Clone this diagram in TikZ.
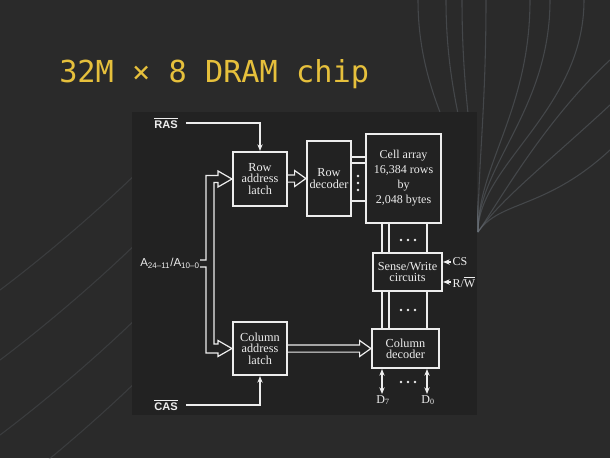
\documentclass[tikz,border=0pt]{standalone}
\usepackage{fontspec}
\setmainfont{Liberation Serif}
\newfontfamily\titlefont{DejaVu Sans Mono}
\newfontfamily\labelfont{Liberation Sans}
\usetikzlibrary{arrows.meta,positioning,calc}
\definecolor{slide}{HTML}{2A2A2A}
\definecolor{panel}{HTML}{222222}
\definecolor{ink}{HTML}{EDEDED}
\definecolor{titlegold}{HTML}{E6C03C}
\definecolor{swirl}{HTML}{6C737B}

% hollow bus arrow from the east side of #1 to the west side of #2
\newcommand{\hbus}[2]{%
  \draw[bus] let \p1=(#1.east), \p2=(#2.west) in
    (\x1,\y2+2.7pt) -- (\x2-8.5pt,\y2+2.7pt) -- (\x2-8.5pt,\y2+6pt) -- (\x2,\y2)
    -- (\x2-8.5pt,\y2-6pt) -- (\x2-8.5pt,\y2-2.7pt) -- (\x1,\y2-2.7pt);}

\begin{document}
\begin{tikzpicture}[x=0.75pt,y=-0.75pt,
  blk/.style={draw=ink, line width=1.6pt, text=ink, align=center, inner sep=0pt, font=\fontsize{9.2}{8.5}\selectfont},
  wire/.style={draw=ink, line width=0.9pt},
  bus/.style={draw=ink, line width=0.9pt, line join=miter},
  sig/.style={text=ink, inner sep=0pt, font=\labelfont\bfseries\fontsize{8.3}{9}\selectfont},
  pin/.style={text=ink, inner sep=1pt, font=\fontsize{9}{9}\selectfont},
  sw/.style={draw=swirl, line width=0.8pt, opacity=0.4},
  >={Stealth[length=5pt,width=4pt]}
]
% slide background
\useasboundingbox (0,0) rectangle (610,458);
\fill[slide] (0,0) rectangle (610,458);
\foreach \sx in {418,446,462,486,530,550,584}
  \draw[sw] (\sx,0) .. controls (\sx,110) and (478,165) .. (478,232);
\foreach \sy in {60,105,150}
  \draw[sw] (610,\sy) .. controls (545,\sy+60) and (500,200) .. (478,232);
\foreach \sy in {250,320,395,458}
  \draw[sw, opacity=0.25] (0,\sy+40) .. controls (40,\sy+10) and (100,\sy-40) .. (150,\sy-90);
\fill[panel] (132,112) rectangle (477,415);

% title
\node[anchor=base west, inner sep=0pt, text=titlegold, font=\titlefont\fontsize{22.7}{26}\selectfont] (title) at (59,82) {32M × 8 DRAM chip};

% blocks
\node[blk, minimum width=40.5pt, minimum height=40.5pt] (rowlatch) at (260,179) {Row\\address\\latch};
\node[blk, minimum width=33pt, minimum height=56.25pt] (rowdec) at (329,178.5) {Row\\decoder};
\node[blk, minimum width=56.25pt, minimum height=66.75pt, font=\fontsize{9}{11.3}\selectfont] (cells) at (403.5,178.5) {Cell array\\16,384 rows\\by\\2,048 bytes};
\node[blk, minimum width=51.75pt, minimum height=28.5pt] (sense) at (407.5,272) {Sense/Write\\circuits};
\node[blk, minimum width=50.25pt, minimum height=29.25pt] (coldec) at (405.5,348.5) {Column\\decoder};
\node[blk, minimum width=40.5pt, minimum height=39.75pt] (collatch) at (260,348.5) {Column\\address\\latch};

% strobes
\node[sig] (ras) at (166,123) {$\overline{\hbox{RAS}}$};
\node[sig] (cas) at (166,405) {$\overline{\hbox{CAS}}$};
\draw[wire, ->] ([xshift=6pt]ras.east) -| (rowlatch.north);
\draw[wire, ->] ([xshift=6pt]cas.east) -| (collatch.south);

% address bus
\node[sig, anchor=east, font=\labelfont\fontsize{8.6}{9}\selectfont] (addr) at (200,263.5) {A\textsubscript{24–11}/A\textsubscript{10–0}};
\draw[bus] ([yshift=2.6pt]addr.east) -| (206,175.5) -- (218,175.5) -- (218,171) -- (rowlatch.west)
  -- (218,187) -- (218,182.5) -- (214,182.5) -- (214,344) -- (218,344) -- (218,340.5) -- (collatch.west)
  -- (218,356.5) -- (218,353) -- (206,353) |- ([yshift=-2.6pt]addr.east);
\hbus{rowlatch}{rowdec}
\hbus{collatch}{coldec}

% word lines
\foreach \dy in {16.1,11.6,-16.9}
  \draw[wire] ([yshift=\dy pt]rowdec.east) -- ([yshift=\dy pt]cells.west);
\foreach \y in {176,183,190}
  \fill[ink] (358,\y) circle (1.1pt);

% bit lines
\coordinate (b1) at (382,0);
\coordinate (b2) at (389,0);
\coordinate (b3) at (427,0);
\foreach \b in {b1,b2,b3} {
  \draw[wire] (cells.south -| \b) -- (sense.north -| \b);
  \draw[wire] (sense.south -| \b) -- (coldec.north -| \b);
}
\foreach \y in {240,310,382}
  \foreach \x in {401,408,415}
    \fill[ink] (\x,\y) circle (1.1pt);

% control inputs
\node[pin, anchor=west] (cs) at (451,262) {CS};
\node[pin, anchor=west] (rw) at (451,282) {R/$\overline{\hbox{W}}$};
\draw[wire, ->] (cs.west) -- (sense.east |- cs.west);
\draw[wire, ->] (rw.west) -- (sense.east |- rw.west);

% data lines
\node[pin, anchor=north] (d7) at (383,394) {D\textsubscript{7}};
\node[pin, anchor=north] (d0) at (428,394) {D\textsubscript{0}};
\draw[wire, <->] (coldec.south -| b1) -- (d7.north -| b1);
\draw[wire, <->] (coldec.south -| b3) -- (d0.north -| b3);
\end{tikzpicture}
\end{document}
